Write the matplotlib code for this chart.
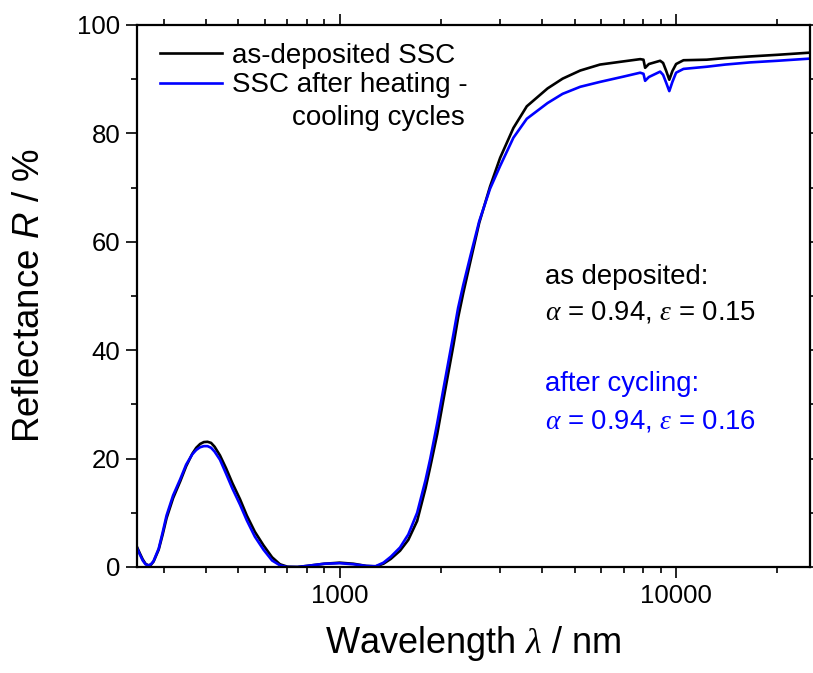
import matplotlib
matplotlib.use('Agg')
import matplotlib.pyplot as plt
from matplotlib.ticker import LogLocator, MultipleLocator, FixedLocator, FixedFormatter, NullFormatter

plt.rcParams['font.family'] = ['Liberation Sans', 'DejaVu Sans']
plt.rcParams['mathtext.fontset'] = 'custom'
plt.rcParams['mathtext.rm'] = 'Liberation Sans'
plt.rcParams['mathtext.it'] = 'Liberation Serif:italic'
plt.rcParams['mathtext.sf'] = 'Liberation Sans:italic'

# wavelength (nm) and reflectance (%)
wl = [250, 255, 260, 265, 270, 275, 280, 290, 298, 306, 320, 336, 350, 365, 375, 385,
      395, 405, 415, 425, 441, 460, 480, 506, 530, 560, 594, 630, 665, 700, 750,
      800, 900, 1000, 1100, 1200, 1280, 1350, 1420, 1512, 1600, 1700, 1800, 1860,
      1950, 2034, 2100, 2180, 2250, 2330, 2450, 2600, 2800, 3000, 3285, 3600, 4150,
      4600, 5190, 5940, 7000, 7820, 8000, 8090, 8300, 8966, 9150, 9350, 9545, 9750,
      10000, 10520, 12330, 14000, 16600, 20000, 25000]

r_dep = [3.7, 2.5, 1.4, 0.6, 0.3, 0.4, 1.0, 3.2, 6.0, 9.0, 12.7, 15.8, 18.6, 20.9, 22.0, 22.7,
         23.05, 23.1, 22.9, 22.2, 20.6, 18.2, 15.5, 12.5, 9.5, 6.5, 4.0, 1.8, 0.5, 0.05, 0.0,
         0.2, 0.6, 0.8, 0.6, 0.2, 0.1, 0.6, 1.5, 3.0, 5.0, 8.5, 14.5, 18.5,
         24.5, 30.8, 35.5, 41.0, 46.0, 50.5, 56.5, 63.5, 70.2, 75.5, 81.0, 85.0, 88.3,
         90.1, 91.6, 92.7, 93.3, 93.7, 93.6, 92.1, 92.8, 93.4, 93.0, 91.5, 89.9, 91.5,
         92.8, 93.5, 93.6, 93.9, 94.2, 94.5, 94.9]

r_cyc = [3.5, 2.3, 1.2, 0.5, 0.3, 0.5, 1.1, 3.4, 6.4, 9.5, 13.2, 16.2, 18.9, 20.8, 21.6, 22.1,
         22.3, 22.3, 22.0, 21.3, 19.8, 17.2, 14.5, 11.5, 8.6, 5.6, 3.2, 1.2, 0.3, 0.0, 0.0,
         0.2, 0.6, 0.7, 0.5, 0.2, 0.15, 0.8, 1.9, 3.6, 6.0, 10.0, 16.0, 20.0,
         26.5, 32.8, 37.5, 43.0, 47.8, 52.0, 57.5, 63.8, 69.8, 74.0, 79.2, 82.7, 85.6,
         87.3, 88.6, 89.5, 90.5, 91.2, 91.0, 89.7, 90.4, 91.4, 90.8, 89.3, 87.8, 89.5,
         91.2, 91.9, 92.3, 92.7, 93.1, 93.4, 93.8]

labels = ['as-deposited SSC', 'SSC after heating -', 'cooling cycles']

fig = plt.figure(figsize=(8.13, 6.73), dpi=100)
ax = fig.add_axes([137/813, 1-567/673, (810-137)/813, (567-25)/673])

ax.plot(wl, r_dep, color='black', lw=1.9, label=labels[0])
ax.plot(wl, r_cyc, color='#0000ff', lw=1.9, label=labels[1])

ax.set_xscale('log')
ax.set_xlim(250, 25000)
ax.set_ylim(0, 100)
ax.xaxis.set_major_locator(FixedLocator([1000, 10000]))
ax.xaxis.set_major_formatter(FixedFormatter(['1000', '10000']))
ax.xaxis.set_minor_locator(LogLocator(base=10, subs=range(2, 10), numticks=20))
ax.xaxis.set_minor_formatter(NullFormatter())
ax.yaxis.set_major_locator(MultipleLocator(20))
ax.yaxis.set_minor_locator(MultipleLocator(10))

for s in ax.spines.values():
    s.set_linewidth(1.6)
ax.tick_params(which='both', direction='out', top=True, right=True, width=1.2,
               labelsize=18.5, pad=4)
ax.tick_params(which='major', length=8)
ax.tick_params(which='minor', length=4)

ax.set_xlabel(r'Wavelength $\lambda$ / nm', fontsize=26, labelpad=12)
ax.set_ylabel(r'Reflectance $\mathsf{R}$ / %', fontsize=26.5, labelpad=22)

leg = ax.legend(loc='upper left', bbox_to_anchor=(-0.003, 1.013), frameon=False,
                fontsize=20, handlelength=2.25, handletextpad=0.35, labelspacing=0.12)

# second line of the blue label, right-aligned under the first
fig.canvas.draw()
bb = leg.get_texts()[1].get_window_extent().transformed(ax.transAxes.inverted())
ax.text(bb.x1 - 0.005, bb.y0 - 0.012, labels[2], transform=ax.transAxes, fontsize=20,
        ha='right', va='top')

ax.text(0.606, 0.535, 'as deposited:', transform=ax.transAxes, fontsize=19.8,
        va='center', ha='left')
ax.text(0.606, 0.47, r'$\alpha$ = 0.94, $\varepsilon$ = 0.15', transform=ax.transAxes,
        fontsize=19.8, va='center', ha='left')
ax.text(0.606, 0.337, 'after cycling:', transform=ax.transAxes, fontsize=19.8,
        va='center', ha='left', color='#0000ff')
ax.text(0.606, 0.268, r'$\alpha$ = 0.94, $\varepsilon$ = 0.16', transform=ax.transAxes,
        fontsize=19.8, va='center', ha='left', color='#0000ff')

fig.savefig('out.png', dpi=100)
